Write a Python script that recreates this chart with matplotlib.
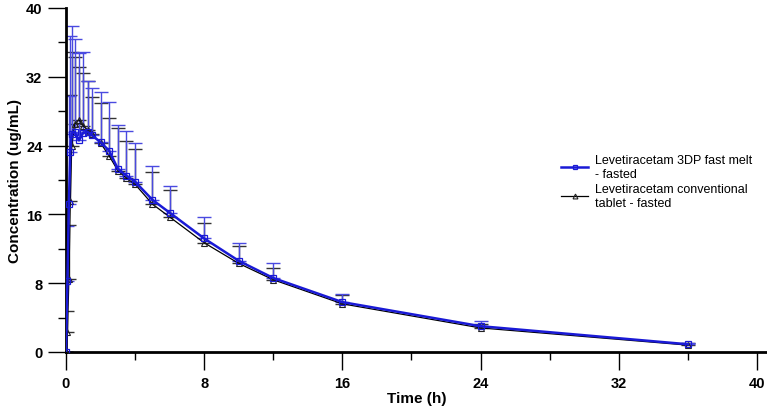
import matplotlib
matplotlib.use("Agg")
import matplotlib.pyplot as plt
from matplotlib.ticker import MultipleLocator

plt.rcParams['font.family'] = ['Liberation Sans', 'DejaVu Sans']

times = [0, 0.083, 0.167, 0.25, 0.333, 0.5, 0.75, 1, 1.25, 1.5, 2, 2.5, 3, 3.5, 4, 5, 6, 8, 10, 12, 16, 24, 36]

melt_mean = [0, 8.3, 17.2, 23.3, 25.4, 25.6, 24.6, 25.5, 25.6, 25.2, 24.4, 23.4, 21.3, 20.5, 19.8,
             17.7, 16.2, 13.2, 10.6, 8.6, 5.8, 3.0, 0.9]
melt_upper = [0, 14.6, 29.8, 36.7, 37.9, 36.4, 34.8, 34.9, 31.5, 30.7, 30.2, 29.1, 26.4, 25.7, 24.3,
              21.6, 19.3, 15.7, 12.7, 10.3, 6.8, 3.6, 1.1]

tab_mean = [0, 2.3, 8.5, 17.6, 24.0, 26.5, 27.0, 26.3, 25.8, 25.3, 24.3, 22.8, 21.1, 20.2, 19.5,
            17.2, 15.7, 12.7, 10.3, 8.4, 5.6, 2.8, 0.8]
tab_upper = [0, 4.8, 14.8, 29.9, 34.9, 34.3, 33.1, 32.5, 31.5, 29.6, 28.9, 27.2, 26.0, 24.5, 23.6,
             20.9, 18.8, 15.0, 12.3, 9.8, 6.6, 3.3, 1.0]

labels = ["Levetiracetam 3DP fast melt\n- fasted", "Levetiracetam conventional\ntablet - fasted"]

fig = plt.figure(figsize=(7.67, 4.14), dpi=100)
ax = fig.add_axes([66/767, 61/414, 701/767, 344/414])

blue = '#1a1ad6'
black = '#000000'

tab_err = [[0]*len(times), [u - m for u, m in zip(tab_upper, tab_mean)]]
melt_err = [[0]*len(times), [u - m for u, m in zip(melt_upper, melt_mean)]]

ax.errorbar(times, tab_mean, yerr=tab_err, fmt='none', ecolor='#333333', elinewidth=1.0,
            capsize=5, capthick=1.0, zorder=2)
ax.errorbar(times, melt_mean, yerr=melt_err, fmt='none', ecolor='#4a4ae0', elinewidth=1.0,
            capsize=5, capthick=1.0, zorder=2)

ax.plot(times, tab_mean, color=black, lw=0.9, marker='^', ms=5, mfc='none', mec='#222222',
        mew=0.8, label=labels[1], zorder=3)
ax.plot(times, melt_mean, color=blue, lw=1.8, marker='s', ms=4.5, mfc='none', mec=blue,
        mew=0.9, label=labels[0], zorder=4)

ax.set_xlim(0, 40.58)
ax.set_ylim(0, 40)
ax.xaxis.set_major_locator(MultipleLocator(8))
ax.xaxis.set_minor_locator(MultipleLocator(4))
ax.yaxis.set_major_locator(MultipleLocator(8))
ax.yaxis.set_minor_locator(MultipleLocator(4))
ax.tick_params(which='major', direction='out', length=13, width=1.0, labelsize=10.5, pad=4)
ax.tick_params(which='minor', direction='out', length=6, width=1.0)
for lab in ax.get_xticklabels() + ax.get_yticklabels():
    lab.set_fontweight('bold')

for s in ['top', 'right']:
    ax.spines[s].set_visible(False)
for s in ['left', 'bottom']:
    ax.spines[s].set_linewidth(2.0)

ax.set_xlabel('Time (h)', fontsize=11, fontweight='bold', labelpad=1)
ax.set_ylabel('Concentration (ug/mL)', fontsize=11, fontweight='bold', labelpad=3)

handles, lbls = ax.get_legend_handles_labels()
order = [1, 0]
ax.legend([handles[i] for i in order], [lbls[i] for i in order], loc='upper left',
          bbox_to_anchor=(0.69, 0.607), frameon=False, fontsize=9, handlelength=2.2,
          handletextpad=0.5, labelspacing=0.2, markerscale=0.7)

fig.savefig('out.png', dpi=100)
